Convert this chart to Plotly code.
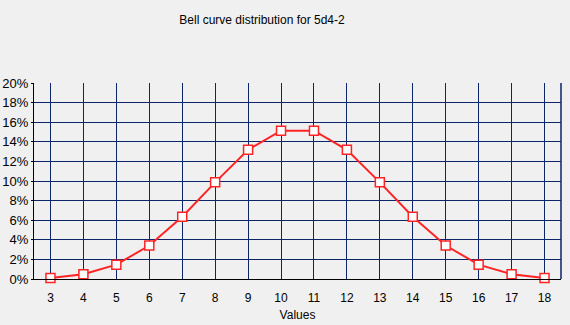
import plotly.graph_objects as go

values = [3, 4, 5, 6, 7, 8, 9, 10, 11, 12, 13, 14, 15, 16, 17, 18]
percent = [0.098, 0.488, 1.465, 3.418, 6.348, 9.863, 13.184, 15.137,
           15.137, 13.184, 9.863, 6.348, 3.418, 1.465, 0.488, 0.098]
y_ticks = [0, 2, 4, 6, 8, 10, 12, 14, 16, 18, 20]

grid = "#0c2468"
bg = "#f0f0f0"
font = dict(family="Arial, Liberation Sans, sans-serif", size=12, color="black")

fig = go.Figure()
fig.add_trace(go.Scatter(
    x=values, y=percent, mode="lines+markers",
    line=dict(color="#ff2424", width=2),
    marker=dict(symbol="square", size=9, color="white",
                line=dict(color="#ff2424", width=1.5)),
    showlegend=False, cliponaxis=False,
))

fig.update_layout(
    width=570, height=325,
    margin=dict(l=34, r=9, t=83, b=46, autoexpand=False),
    paper_bgcolor=bg, plot_bgcolor=bg,
    font=font,
    title=dict(text="Bell curve distribution for 5d4-2", x=262/570, xanchor="center",
               xref="container", yref="container",
               y=1 - 20/325, yanchor="middle", font=dict(size=12), automargin=False),
)
fig.update_xaxes(
    range=[2.5, 18.5], tickmode="array", tickvals=values, ticktext=[str(v) for v in values],
    showgrid=True, gridcolor=grid, gridwidth=1,
    showline=True, linecolor="black", linewidth=1,
    ticks="", ticklabelstandoff=8, automargin=False,
    title=dict(text="Values", standoff=6, font=dict(size=12)),
    zeroline=False,
)
fig.update_yaxes(
    range=[0, 20], tickmode="array", tickvals=y_ticks, ticktext=[f"{v}%" for v in y_ticks],
    showgrid=True, gridcolor=grid, gridwidth=1,
    showline=True, linecolor="black", linewidth=1,
    ticks="outside", ticklen=2, tickcolor="black", automargin=False,
    tickfont=dict(size=13),
    zeroline=False,
)
# right border line
fig.add_shape(type="line", xref="paper", yref="paper", x0=1, x1=1, y0=0, y1=1,
              line=dict(color=grid, width=1.5), layer="below")

fig.write_html("out.html", config={"displayModeBar": False},
               post_script="document.body.style.margin='0';document.body.style.overflow='hidden';")
